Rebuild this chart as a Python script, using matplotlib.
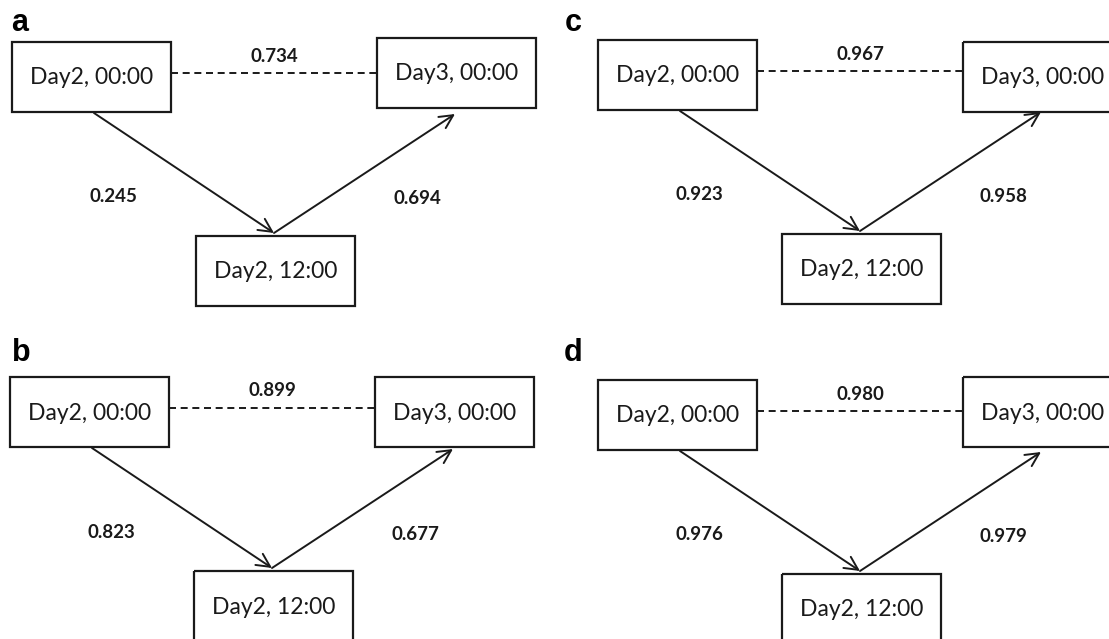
import matplotlib
matplotlib.use('Agg')
import matplotlib.pyplot as plt
from matplotlib.patches import Rectangle

# data
panel_letters = ['a', 'b', 'c', 'd']
node_labels = ['Day2, 00:00', 'Day3, 00:00', 'Day2, 12:00']
dashed_vals = ['0.734', '0.899', '0.967', '0.980']   # Day2 00:00 -- Day3 00:00
left_vals = ['0.245', '0.823', '0.923', '0.976']     # Day2 00:00 -> Day2 12:00
right_vals = ['0.694', '0.677', '0.958', '0.979']    # Day2 12:00 -> Day3 00:00

# layout (pixels, origin = top-left of the first box in each panel)
origins = [(12, 42), (10, 377), (598, 40), (598, 380)]
box2_dy = [-4, 0, 2, -3]
letter_pos = [(20, 23), (21, 353), (573, 23), (573, 353)]
BW, BH = 159, 70

ink = '#1a1a1a'
W, H = 1109, 639
fig = plt.figure(figsize=(W / 100, H / 100), dpi=100)
ax = fig.add_axes([0, 0, 1, 1])
ax.set_xlim(0, W)
ax.set_ylim(H, 0)
ax.axis('off')

box_font = dict(family=['Lato', 'DejaVu Sans'], fontsize=16.5, color=ink)
val_font = dict(family=['Lato', 'DejaVu Sans'], fontsize=13.5, fontweight='bold', color=ink)

for i, let in enumerate(panel_letters):
    ox, oy = origins[i]
    boxes = [(ox, oy), (ox + 365, oy + box2_dy[i]), (ox + 184, oy + 194)]
    for (bx, by), lab in zip(boxes, node_labels):
        ax.add_patch(Rectangle((bx, by), BW, BH, fill=False, edgecolor=ink, lw=1.6))
        ax.text(bx + BW / 2, by + BH / 2 + 1, lab, ha='center', va='center', **box_font)

    # dashed link
    ax.plot([ox + BW, ox + 365], [oy + 31, oy + 31], color=ink, lw=1.4,
            linestyle=(0, (3.6, 2.4)))
    ax.text(ox + 262, oy + 14, dashed_vals[i], ha='center', va='center', **val_font)

    # arrows
    mid = (ox + 262, oy + 191)
    ax.annotate('', xy=mid, xytext=(ox + 82, oy + 71),
                arrowprops=dict(arrowstyle='->', lw=1.4, color=ink,
                                mutation_scale=24, shrinkA=0, shrinkB=0))
    ax.annotate('', xy=(ox + 443, oy + 72), xytext=mid,
                arrowprops=dict(arrowstyle='->', lw=1.4, color=ink,
                                mutation_scale=24, shrinkA=0, shrinkB=0))
    ax.text(ox + 101, oy + 155, left_vals[i], ha='center', va='center', **val_font)
    ax.text(ox + 405, oy + 157, right_vals[i], ha='center', va='center', **val_font)

    lx, ly = letter_pos[i]
    ax.text(lx, ly, let, ha='center', va='center', fontsize=22, fontweight='bold',
            family='Liberation Sans', color='black')

fig.savefig('out.png', dpi=100)
